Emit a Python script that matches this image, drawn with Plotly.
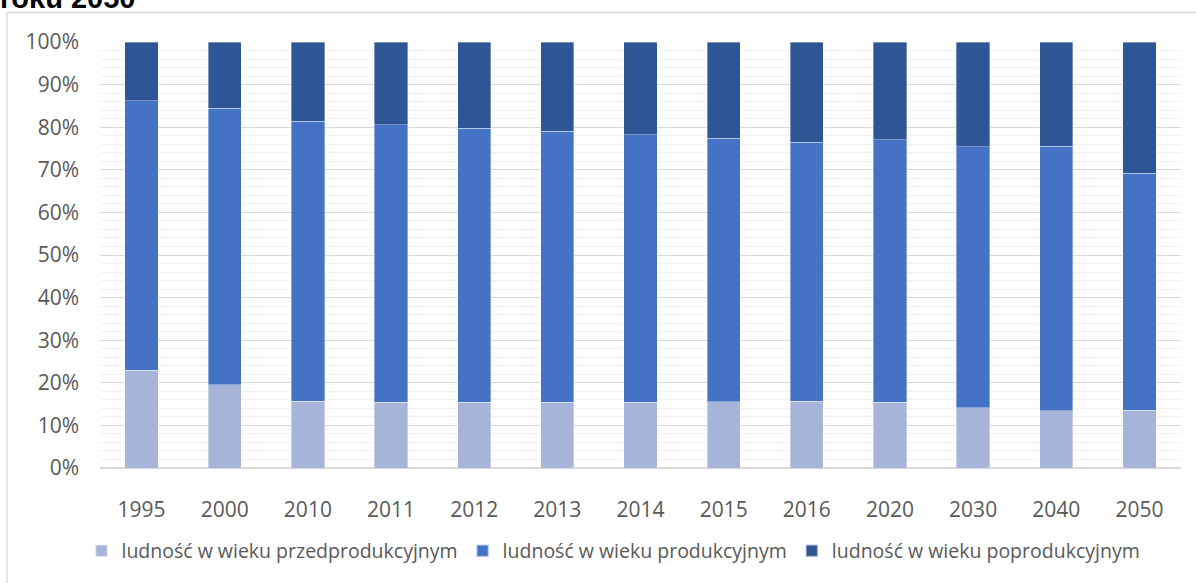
import plotly.graph_objects as go

years = ["1995", "2000", "2010", "2011", "2012", "2013", "2014", "2015", "2016", "2020", "2030", "2040", "2050"]
# shares in percent
pre_productive = [23.0, 19.5, 15.7, 15.4, 15.4, 15.4, 15.4, 15.5, 15.7, 15.4, 14.1, 13.4, 13.6]
productive = [63.2, 65.0, 65.7, 65.2, 64.3, 63.7, 62.8, 61.9, 60.8, 61.6, 61.3, 62.1, 55.6]
post_productive = [13.8, 15.5, 18.6, 19.4, 20.3, 20.9, 21.8, 22.6, 23.5, 23.0, 24.6, 24.5, 30.8]

series_names = [
    "ludność w wieku przedprodukcyjnym",
    "ludność w wieku produkcyjnym",
    "ludność w wieku poprodukcyjnym",
]
colors = ["#A6B4DA", "#4472C4", "#2E5596"]
title_text = "roku 2050"

FONT = "'Open Sans', Lato, sans-serif"

fig = go.Figure()
for name, vals, col in zip(series_names, [pre_productive, productive, post_productive], colors):
    fig.add_trace(go.Bar(
        x=years, y=vals, name=name,
        marker=dict(color=col, line=dict(color="rgba(255,255,255,0.45)", width=0.8)),
    ))

W, H = 1196, 583
L, R, T, B = 100, 15, 42, 115
pw = W - L - R
ph = H - T - B

fig.update_layout(
    width=W, height=H,
    barmode="stack",
    bargap=0.6,
    plot_bgcolor="white",
    paper_bgcolor="white",
    margin=dict(l=L, r=R, t=T, b=B),
    font=dict(family=FONT, size=21, color="#595959"),
    showlegend=True,
    legend=dict(
        orientation="h", x=0.475, xanchor="center", y=-0.195, yanchor="middle",
        font=dict(family=FONT, size=19.5, color="#595959"),
        itemsizing="constant", traceorder="normal", itemwidth=30,
        tracegroupgap=0,
    ),
    xaxis=dict(
        showgrid=False, showline=False, zeroline=False,
        tickfont=dict(family=FONT, size=21, color="#595959"),
        ticklabelstandoff=27,
    ),
    yaxis=dict(
        range=[0, 100], dtick=10, ticksuffix="%",
        showgrid=True, gridcolor="#D9D9D9", gridwidth=1.3,
        zeroline=True, zerolinecolor="#D9D9D9", zerolinewidth=1.5,
        showline=False,
        minor=dict(dtick=2, showgrid=True, gridcolor="#F2F2F2", gridwidth=1.3),
        tickfont=dict(family=FONT, size=21, color="#595959"),
        ticklabelstandoff=20,
    ),
    shapes=[dict(
        type="rect", xref="paper", yref="paper",
        x0=(7 - L) / pw, x1=(W + 20 - L) / pw,
        y0=-(H + 20 - T - ph) / ph, y1=1 + (T - 12.5) / ph,
        line=dict(color="#D9D9D9", width=1.3), fillcolor="rgba(0,0,0,0)", layer="below",
    )],
    annotations=[dict(
        text="<b>" + title_text + "</b>", xref="paper", yref="paper",
        x=(-2 - L) / pw, xanchor="left", y=1 + (T - 16) / ph, yanchor="bottom",
        showarrow=False, font=dict(family="Liberation Sans, Arial, sans-serif", size=29, color="black"),
    )],
)

fig.write_html(
    "out.html",
    config={"displayModeBar": False},
    post_script="document.body.style.margin='0';document.body.style.padding='0';",
)
